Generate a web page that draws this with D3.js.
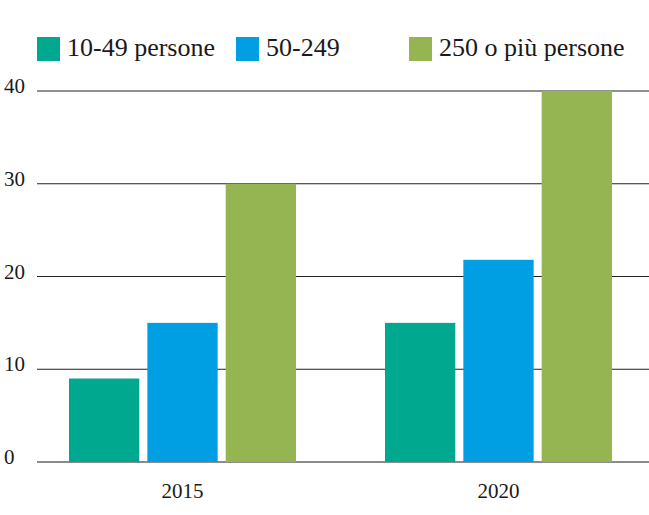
<!DOCTYPE html>
<html>
<head>
<meta charset="utf-8">
<script src="https://cdn.jsdelivr.net/npm/d3@7"></script>
<style>
  body { margin: 0; background: #fff; }
  svg { display: block; }
</style>
</head>
<body>
<div id="chart"></div>
<script>
// data
var years = ["2015", "2020"];
var groups = ["10-49 persone", "50-249", "250 o più persone"];
var small = [9, 15];
var medium = [15, 21.8];
var large = [30, 40];
var yTicks = [0, 10, 20, 30, 40];
var colors = ["#00a88f", "#009fe3", "#95b553"];

var width = 649, height = 515;
var serif = "'Liberation Serif', 'DejaVu Serif', 'Times New Roman', serif";

var svg = d3.select("#chart")
    .append("svg")
    .attr("width", width)
    .attr("height", height)
    .attr("font-family", serif);

var series = [small, medium, large];
var data = years.map(function (yr, i) {
  return groups.map(function (g, j) { return {year: yr, group: g, value: series[j][i]}; });
});

// scales
var y = d3.scaleLinear()
    .domain([0, 40])
    .range([462, 91]);

var x0 = d3.scaleBand()
    .domain(years)
    .range([69, 612])
    .paddingInner(0.2816)
    .paddingOuter(0);

var x1 = d3.scaleBand()
    .domain(groups)
    .range([0, x0.bandwidth()])
    .paddingInner(0.1026)
    .paddingOuter(0);

var color = d3.scaleOrdinal().domain(groups).range(colors);

// grid lines (behind bars)
svg.append("g")
  .selectAll("line")
  .data(yTicks)
  .enter()
  .append("line")
    .attr("x1", 37)
    .attr("x2", width)
    .attr("y1", function (d) { return y(d); })
    .attr("y2", function (d) { return y(d); })
    .attr("stroke", function (d) { return d === 0 ? "#8c8c8c" : "#222"; })
    .attr("stroke-width", function (d) { return d === 0 ? 2 : 1; });

// y labels
svg.append("g")
  .selectAll("text")
  .data(yTicks)
  .enter()
  .append("text")
    .attr("x", 4)
    .attr("y", function (d) { return y(d) + 2; })
    .style("font-family", serif)
    .style("font-size", "21px")
    .style("fill", "#1a1a1a")
    .text(function (d) { return d; });

// bars
svg.append("g")
  .selectAll("g")
  .data(data)
  .enter()
  .append("g")
    .attr("transform", function (d, i) { return "translate(" + x0(years[i]) + ",0)"; })
  .selectAll("rect")
  .data(function (d) { return d; })
  .enter()
  .append("rect")
    .attr("x", function (d) { return x1(d.group); })
    .attr("y", function (d) { return y(d.value); })
    .attr("width", x1.bandwidth())
    .attr("height", function (d) { return y(0) - y(d.value); })
    .attr("fill", function (d) { return color(d.group); });

// x labels
svg.append("g")
  .selectAll("text")
  .data(years)
  .enter()
  .append("text")
    .attr("x", function (d) { return x0(d) + x0.bandwidth() / 2; })
    .attr("y", 498)
    .attr("text-anchor", "middle")
    .style("font-family", serif)
    .style("font-size", "21px")
    .style("fill", "#1a1a1a")
    .text(function (d) { return d; });

// legend
var legendX = [37, 236, 409];
var legend = svg.append("g")
  .selectAll("g")
  .data(groups)
  .enter()
  .append("g")
    .attr("transform", function (d, i) { return "translate(" + legendX[i] + ",37)"; });

legend.append("rect")
    .attr("width", 23)
    .attr("height", 24)
    .attr("fill", function (d) { return color(d); });

legend.append("text")
    .attr("x", 30)
    .attr("y", 19)
    .style("font-family", serif)
    .style("font-size", "26px")
    .style("fill", "#1a1a1a")
    .text(function (d) { return d; });
</script>
</body>
</html>
